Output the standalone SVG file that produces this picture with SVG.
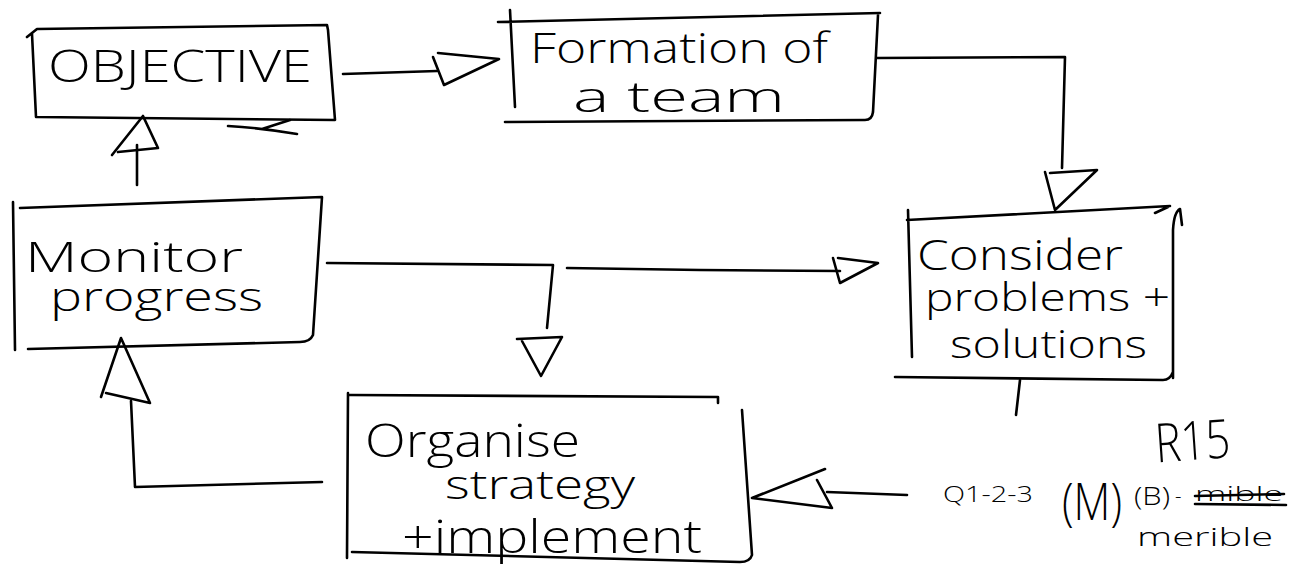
<svg xmlns="http://www.w3.org/2000/svg" width="1289" height="574" viewBox="0 0 1289 574">
  <defs>
    <style>
      .ln { fill: none; stroke: #000; stroke-width: 2.6; stroke-linecap: round; stroke-linejoin: round; }
      .hw { font-family: "Open Sans", "Liberation Sans", Arial, sans-serif; font-weight: 300; fill: #000; }
    </style>
  </defs>
  <rect width="1289" height="574" fill="#fff"/>

  <!-- Objective -->
  <g id="objective">
    <path class="ln" d="M27,37 L32,33 L37,29 L327,25 L328,30 L335,120 L37,117 M32,34 L36,117"/>
    <path class="ln" d="M228,126 Q262,128 297,134 M262,129 L290,120"/>
    <text class="hw" x="48" y="82" font-size="44" textLength="264" lengthAdjust="spacingAndGlyphs">OBJECTIVE</text>
  </g>

  <!-- Formation of a team -->
  <g id="formation">
    <path class="ln" d="M498,22 L880,13 M510,10 L515,107 M878,15 L873,112 Q872,120 865,120 L505,122"/>
    <text class="hw" x="530" y="63" font-size="42" textLength="298" lengthAdjust="spacingAndGlyphs">Formation of</text>
    <text class="hw" x="573" y="112" font-size="42" textLength="212" lengthAdjust="spacingAndGlyphs">a team</text>
  </g>

  <!-- Consider problems + solutions -->
  <g id="consider">
    <path class="ln" d="M907,220 L1170,206 M908,210 L912,357 M1182,225 L1180,209 Q1174,212 1173,230 L1173,378 M1155,213 L1168,207 M895,377 L1163,380 Q1170,380 1173,372"/>
    <text class="hw" x="917" y="270" font-size="42" textLength="206" lengthAdjust="spacingAndGlyphs">Consider</text>
    <text class="hw" x="925" y="311" font-size="38" textLength="245" lengthAdjust="spacingAndGlyphs">problems +</text>
    <text class="hw" x="950" y="358" font-size="38" textLength="197" lengthAdjust="spacingAndGlyphs">solutions</text>
  </g>

  <!-- Monitor progress -->
  <g id="monitor">
    <path class="ln" d="M20,208 L322,197 L313,335 Q310,342 300,342 L28,349 M13,202 L15,350"/>
    <text class="hw" x="25" y="272" font-size="42" textLength="218" lengthAdjust="spacingAndGlyphs">Monitor</text>
    <text class="hw" x="50" y="311" font-size="40" textLength="213" lengthAdjust="spacingAndGlyphs">progress</text>
  </g>

  <!-- Organise strategy + implement -->
  <g id="organise">
    <path class="ln" d="M350,395 L718,397 L718,403 M742,410 L752,555 Q750,562 740,562 L352,552 M348,393 L347,558"/>
    <text class="hw" x="365" y="457" font-size="46" textLength="215" lengthAdjust="spacingAndGlyphs">Organise</text>
    <text class="hw" x="445" y="499" font-size="40" textLength="190" lengthAdjust="spacingAndGlyphs">strategy</text>
    <text class="hw" x="402" y="553" font-size="46" textLength="300" lengthAdjust="spacingAndGlyphs">+implement</text>
  </g>

  <!-- Notes -->
  <g id="notes">
    <text class="hw" x="1155" y="460" font-size="54" textLength="75" lengthAdjust="spacingAndGlyphs" transform="rotate(-4 1190 440)">R15</text>
    <text class="hw" x="943" y="502" font-size="22" textLength="90" lengthAdjust="spacingAndGlyphs">Q1-2-3</text>
    <text class="hw" x="1062" y="520" font-size="52" textLength="60" lengthAdjust="spacingAndGlyphs">(M)</text>
    <text class="hw" x="1134" y="505" font-size="26" textLength="36" lengthAdjust="spacingAndGlyphs">(B)</text>
    <text class="hw" x="1175" y="503" font-size="20">-</text>
    <text class="hw" x="1195" y="501" font-size="20" textLength="88" lengthAdjust="spacingAndGlyphs">mible</text>
    <path class="ln" d="M1195,496 L1284,494 M1195,504 L1286,505"/>
    <text class="hw" x="1137" y="546" font-size="26" textLength="136" lengthAdjust="spacingAndGlyphs">merible</text>
  </g>

  <!-- Connectors -->
  <g id="connectors">
    <!-- objective -> formation -->
    <path class="ln" d="M343,74 L437,71"/>
    <path class="ln" d="M433,57 L444,85 L499,59 L438,53"/>
    <!-- formation -> consider -->
    <path class="ln" d="M877,58 L1065,57 L1062,168"/>
    <path class="ln" d="M1045,172 L1055,210 L1097,170 L1050,173"/>
    <!-- monitor -> organise / consider -->
    <path class="ln" d="M327,263 L553,265 L547,328"/>
    <path class="ln" d="M517,339 L562,337 L541,376 L522,341"/>
    <path class="ln" d="M567,268 L700,270 L840,271"/>
    <path class="ln" d="M833,258 L840,283 L878,263 L838,258"/>
    <!-- consider -> organise -->
    <path class="ln" d="M1020,380 L1016,415"/>
    <path class="ln" d="M907,495 L827,492"/>
    <path class="ln" d="M825,469 L752,498 L832,508 L817,480"/>
    <!-- organise -> monitor -->
    <path class="ln" d="M322,482 L135,487 L131,401"/>
    <path class="ln" d="M101,397 L121,338 L150,403 L106,393"/>
    <!-- monitor -> objective -->
    <path class="ln" d="M137,185 L137,145"/>
    <path class="ln" d="M112,155 L143,116 L158,148 L118,152"/>
  </g>
</svg>
